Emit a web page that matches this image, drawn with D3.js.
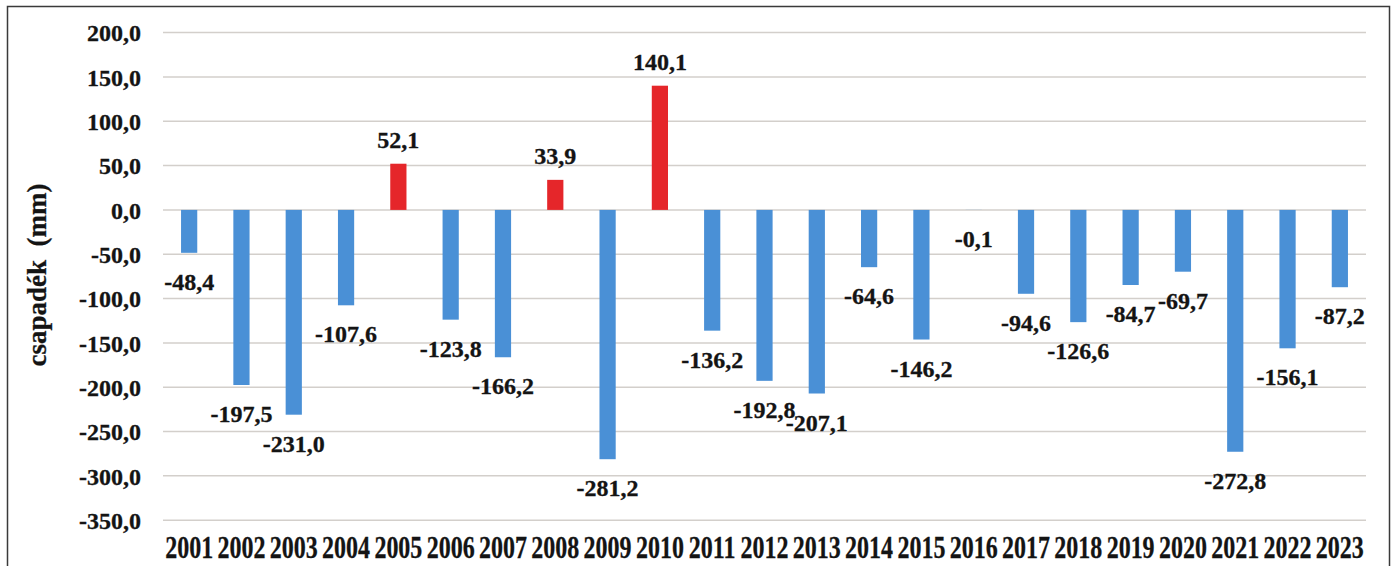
<!DOCTYPE html>
<html>
<head>
<meta charset="utf-8">
<script src="https://cdn.jsdelivr.net/npm/d3@7"></script>
<style>
  html, body { margin: 0; padding: 0; background: #fff; }
</style>
</head>
<body>
<svg id="chart" width="1395" height="566"></svg>
<script>
// Yearly precipitation deviation (mm), 2001–2023
const years = ["2001","2002","2003","2004","2005","2006","2007","2008","2009","2010","2011","2012",
               "2013","2014","2015","2016","2017","2018","2019","2020","2021","2022","2023"];
const deviation = [-48.4, -197.5, -231.0, -107.6, 52.1, -123.8, -166.2, 33.9, -281.2, 140.1, -136.2,
                   -192.8, -207.1, -64.6, -146.2, -0.1, -94.6, -126.6, -84.7, -69.7, -272.8, -156.1, -87.2];
const yTicks = [200, 150, 100, 50, 0, -50, -100, -150, -200, -250, -300, -350];
const yTitle = "csapadék  (mm)";

const FONT = "'Liberation Serif', 'Times New Roman', serif";
const INK = "#141414";

const huLocale = d3.formatLocale({ decimal: ",", thousands: " ", grouping: [3], currency: ["", ""], minus: "-" });
const fmt = huLocale.format(".1f");

const svg = d3.select("#chart");
const plot = { left: 163, right: 1366, top: 32.6, bottom: 520.2 };

const x = d3.scaleBand().domain(years).range([plot.left, plot.right]).paddingInner(0.69).paddingOuter(0.345);
const y = d3.scaleLinear().domain([-350, 200]).range([plot.bottom, plot.top]);

function styleText(sel, size) {
  sel.attr("font-family", FONT).attr("font-weight", "bold").attr("font-size", size)
     .attr("fill", INK).attr("stroke", INK).attr("stroke-width", 0.3);
}

// outer frame
svg.append("rect")
  .attr("x", 7.5).attr("y", 6.5).attr("width", 1382).attr("height", 600)
  .attr("fill", "none").attr("stroke", "#3a3a3a").attr("stroke-width", 1.5);

// horizontal gridlines
svg.append("g").selectAll("line").data(yTicks).join("line")
  .attr("x1", plot.left).attr("x2", plot.right)
  .attr("y1", d => y(d)).attr("y2", d => y(d))
  .attr("stroke", "#d3cfcb").attr("stroke-width", 1.5);

// y axis labels
const yAxis = d3.axisLeft(y).tickValues(yTicks).tickFormat(fmt).tickSize(0).tickPadding(0);
const gy = svg.append("g").attr("transform", "translate(141,0)").call(yAxis)
  .attr("font-family", FONT);
gy.select(".domain").remove();
gy.selectAll("text").call(styleText, 24).attr("dy", "0.34em");

// x axis labels: tall, narrow year numbers
const xAxis = d3.axisBottom(x).tickSize(0).tickPadding(0);
const gx = svg.append("g").attr("transform", "translate(0,558)").call(xAxis)
  .attr("font-family", FONT);
gx.select(".domain").remove();
gx.selectAll("text").call(styleText, 32)
  .attr("y", 0).attr("dy", 0)
  .attr("transform", "scale(0.75,1)");

// bars
svg.append("g").selectAll("rect").data(deviation).join("rect")
  .attr("x", (d, i) => x(years[i]))
  .attr("width", x.bandwidth())
  .attr("y", d => y(Math.max(0, d)))
  .attr("height", d => Math.abs(y(d) - y(0)))
  .attr("fill", d => d > 0 ? "#e5262a" : "#4a90d6");

// value labels
svg.append("g").selectAll("text").data(deviation).join("text")
  .attr("x", (d, i) => x(years[i]) + x.bandwidth() / 2)
  .attr("y", d => d > 0 ? y(d) - 16 : y(d) + 37)
  .attr("text-anchor", "middle")
  .call(styleText, 24)
  .text(d => fmt(d));

// y axis title
svg.append("text")
  .attr("transform", "translate(46,275) rotate(-90)")
  .attr("text-anchor", "middle")
  .call(styleText, 27)
  .attr("xml:space", "preserve")
  .style("white-space", "pre")
  .text(yTitle);
</script>
</body>
</html>
